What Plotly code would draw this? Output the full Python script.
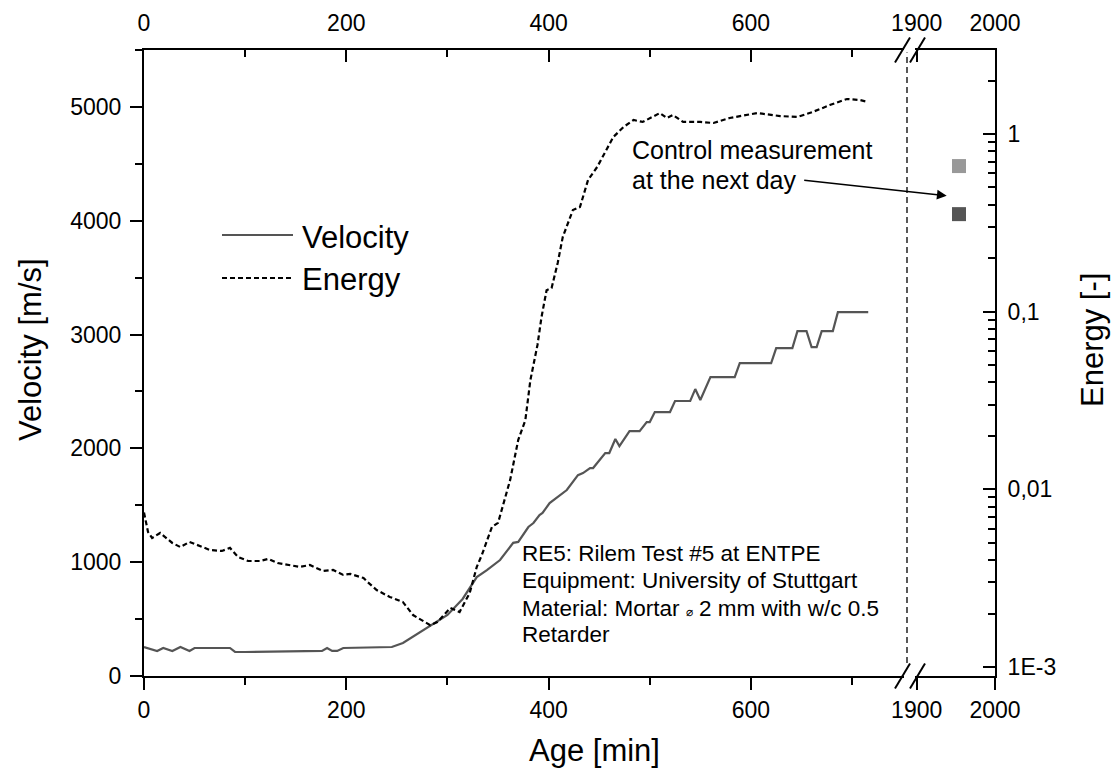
import plotly.graph_objects as go

# ---------------- data ----------------
age_v = [0, 13, 19, 28, 36, 45, 50, 85, 90, 100, 176, 181, 186, 191, 197, 245, 256, 285, 300, 315,
         329, 339, 352, 365, 370, 380, 385, 391, 394, 401, 408, 418, 429, 434, 441, 444, 456, 460, 466, 470,
         480, 490, 497, 500, 505, 520, 525, 540, 545, 550, 560, 584, 589, 620, 625, 641, 646, 655, 660, 665,
         670, 681, 686, 716]
velocity = [255, 220, 246, 220, 255, 220, 246, 246, 211, 211, 220, 246, 220, 220, 246, 255, 290, 457, 536, 677,
            869, 931, 1019, 1170, 1178, 1309, 1344, 1414, 1432, 1520, 1564, 1634, 1765, 1783, 1827, 1827, 1959, 1959, 2082, 2020,
            2151, 2151, 2231, 2231, 2319, 2319, 2416, 2416, 2521, 2425, 2626, 2626, 2749, 2749, 2881, 2881, 3030, 3030, 2890, 2890,
            3030, 3030, 3197, 3197]

age_e = [0, 4, 8, 16, 28, 36, 45, 57, 65, 77, 85, 93, 103, 115, 123, 132, 146, 154, 164, 177,
         187, 197, 204, 217, 221, 230, 243, 256, 266, 283, 290, 303, 312, 322, 329, 334, 344, 350, 362, 370,
         377, 382, 389, 393, 398, 403, 409, 414, 424, 431, 439, 448, 464, 474, 484, 493, 510, 517, 523, 533,
         550, 563, 579, 606, 629, 646, 661, 678, 695, 708, 716]
energy = [0.0074, 0.00575, 0.00532, 0.00568, 0.00499, 0.00473, 0.00506, 0.00473, 0.00456, 0.00450,
          0.00468, 0.00416, 0.00395, 0.00395, 0.00406, 0.00385, 0.00371, 0.00366, 0.00375, 0.00347,
          0.00352, 0.00330, 0.00334, 0.00317, 0.00301, 0.00271, 0.00248, 0.00232, 0.00196, 0.00172,
          0.00179, 0.00215, 0.00204, 0.00261, 0.00366, 0.00427, 0.00614, 0.00647, 0.0113, 0.0190,
          0.0245, 0.0412, 0.0649, 0.0933, 0.132, 0.136, 0.188, 0.263, 0.373, 0.388,
          0.551, 0.652, 0.962, 1.094, 1.199, 1.169, 1.312, 1.230, 1.279, 1.169,
          1.169, 1.153, 1.230, 1.312, 1.262, 1.247, 1.330, 1.455, 1.574, 1.552, 1.514]

control_age = [1954]
control_velocity = [4058]
control_energy = [0.66]

x_ticks_main = [0, 200, 400, 600]
x_ticks_day = [1900, 2000]
v_ticks = [0, 1000, 2000, 3000, 4000, 5000]
e_ticks = [0.001, 0.01, 0.1, 1]
e_ticktext = ["1E-3", "0,01", "0,1", "1"]

info_lines = ["RE5: Rilem Test #5 at ENTPE",
              "Equipment: University of Stuttgart",
              "Material: Mortar <span style='font-size:12px'>\u2300</span> 2 mm with w/c 0.5",
              "Retarder"]

# ---------------- layout geometry (page pixels) ----------------
W, H = 1112, 769
L, R, T, B = 144, 995, 50, 676          # plot area
pw, ph = R - L, B - T
def px(x):
    return (x - L) / pw
def py(y):
    return (B - y) / ph

xbreak = 907
d1 = px(xbreak)
range1 = [0, (xbreak - L) / 1.0115]
range2 = [1900 - (916.7 - xbreak) / 0.783, 2000]

FONT = "Liberation Sans, Arial, sans-serif"
TICKF = dict(family=FONT, size=23, color="black")
VEL_COLOR = "#555555"

fig = go.Figure()
fig.add_trace(go.Scatter(x=age_v, y=velocity, mode="lines", name="Velocity",
                         line=dict(color=VEL_COLOR, width=2.2), xaxis="x", yaxis="y",
                         showlegend=False))
fig.add_trace(go.Scatter(x=age_e, y=energy, mode="lines", name="Energy",
                         line=dict(color="black", width=2.2, dash="5px,3px"), xaxis="x3", yaxis="y2",
                         showlegend=False))
fig.add_trace(go.Scatter(x=control_age, y=control_velocity, mode="markers", name="Velocity (next day)",
                         marker=dict(symbol="square", size=14, color=VEL_COLOR), xaxis="x2", yaxis="y",
                         showlegend=False))
fig.add_trace(go.Scatter(x=control_age, y=control_energy, mode="markers", name="Energy (next day)",
                         marker=dict(symbol="square", size=14, color="#999999"), xaxis="x4", yaxis="y2",
                         showlegend=False))

common_x = dict(showline=True, linecolor="black", linewidth=2, showgrid=False, zeroline=False,
                tickfont=TICKF, tickcolor="black", tickwidth=2)

minor_log = [k * 10 ** e for e in (-4, -3, -2, -1, 0) for k in range(2, 10)]

fig.update_layout(
    width=W, height=H,
    margin=dict(l=L, r=W - R, t=T, b=H - B, autoexpand=False),
    paper_bgcolor="white", plot_bgcolor="white",
    font=dict(family=FONT, color="black"),
    xaxis=dict(domain=[0, d1], range=range1, anchor="y", side="bottom",
               tickmode="array", tickvals=x_ticks_main, ticks="outside", ticklen=12,
               minor=dict(dtick=100, tick0=0, ticks="outside", ticklen=7, tickcolor="black", tickwidth=2),
               **common_x),
    xaxis2=dict(domain=[d1, 1], range=range2, anchor="y", side="bottom",
                tickmode="array", tickvals=x_ticks_day, ticks="outside", ticklen=12,
                **common_x),
    xaxis3=dict(overlaying="x", range=range1, anchor="y", side="top",
                tickmode="array", tickvals=x_ticks_main, ticks="inside", ticklen=12,
                minor=dict(dtick=100, tick0=0, ticks="inside", ticklen=7, tickcolor="black", tickwidth=2),
                ticklabelstandoff=8,
                **common_x),
    xaxis4=dict(overlaying="x2", range=range2, anchor="y", side="top",
                tickmode="array", tickvals=x_ticks_day, ticks="inside", ticklen=12,
                ticklabelstandoff=8,
                **common_x),
    yaxis=dict(domain=[0, 1], range=[0, 5500], anchor="x", side="left",
               tickmode="array", tickvals=v_ticks, ticks="outside", ticklen=12,
               minor=dict(dtick=500, tick0=0, ticks="outside", ticklen=7, tickcolor="black", tickwidth=2),
               ticklabelstandoff=4,
               **common_x),
    yaxis2=dict(overlaying="y", type="log", range=[-3.0507, 0.4728], anchor="x2", side="right",
                tickmode="array", tickvals=e_ticks, ticktext=e_ticktext, ticks="inside", ticklen=12,
                minor=dict(tickmode="array", tickvals=minor_log, ticks="inside", ticklen=7,
                           tickcolor="black", tickwidth=2),
                ticklabelstandoff=6,
                **common_x),
)

shapes = []
# vertical dashed separator at the axis break
shapes.append(dict(type="line", xref="paper", yref="paper", x0=d1, x1=d1, y0=py(663), y1=1,
                   line=dict(color="black", width=1.3, dash="6px,4px"), layer="above"))
# break marks (bottom and top)
for yc in (B, T):
    shapes.append(dict(type="line", xref="paper", yref="paper", x0=px(904), x1=px(915),
                       y0=py(yc), y1=py(yc), line=dict(color="white", width=5), layer="above"))
    for xc in (902.5, 917.5):
        shapes.append(dict(type="line", xref="paper", yref="paper",
                           x0=px(xc - 7.5), y0=py(yc + 12.5), x1=px(xc + 7.5), y1=py(yc - 12.5),
                           line=dict(color="black", width=2), layer="above"))
# legend samples
shapes.append(dict(type="line", xref="paper", yref="paper", x0=px(222), x1=px(293), y0=py(235), y1=py(235),
                   line=dict(color=VEL_COLOR, width=2.2)))
shapes.append(dict(type="line", xref="paper", yref="paper", x0=px(222), x1=px(293), y0=py(278), y1=py(278),
                   line=dict(color="black", width=2.2, dash="5px,3px")))
fig.update_layout(shapes=shapes)

TITLEF = dict(family=FONT, size=31, color="black")
ann = []
# axis titles
ann.append(dict(text="Velocity [m/s]", xref="paper", yref="paper", x=px(30), y=py(350), textangle=-90,
                xanchor="center", yanchor="middle", showarrow=False, font=TITLEF))
ann.append(dict(text="Energy [-]", xref="paper", yref="paper", x=px(1092), y=py(340), textangle=-90,
                xanchor="center", yanchor="middle", showarrow=False, font=TITLEF))
ann.append(dict(text="Age [min]", xref="paper", yref="paper", x=px(594), y=py(750),
                xanchor="center", yanchor="middle", showarrow=False, font=TITLEF))
# legend
ann.append(dict(text="Velocity", xref="paper", yref="paper", x=px(300), y=py(237), xanchor="left",
                yanchor="middle", showarrow=False, font=dict(family=FONT, size=31)))
ann.append(dict(text="Energy", xref="paper", yref="paper", x=px(300), y=py(279), xanchor="left",
                yanchor="middle", showarrow=False, font=dict(family=FONT, size=31)))
for txt, base in zip(["Control measurement", "at the next day"], [158, 188]):
    ann.append(dict(text=txt, xref="paper", yref="paper", x=px(630), y=py(base - 8), xanchor="left",
                    yanchor="middle", showarrow=False, font=dict(family=FONT, size=25)))
# arrow to control measurement
ann.append(dict(text="", xref="paper", yref="paper", x=px(946.7), y=py(195.7),
                ax=-144, ay=-15.7, axref="pixel", ayref="pixel", showarrow=True,
                arrowhead=2, arrowsize=1.3, arrowwidth=1.5, arrowcolor="black"))
for txt, base in zip(info_lines, [560, 587.3, 615, 641.7]):
    ann.append(dict(text=txt, xref="paper", yref="paper", x=px(520), y=py(base - 7), xanchor="left",
                    yanchor="middle", showarrow=False, font=dict(family=FONT, size=22.5)))
fig.update_layout(annotations=ann)

# remove the default 8px page margin so the figure fills the window exactly
fig.write_html("out.html", config={"displayModeBar": False},
               post_script="document.body.style.margin='0';document.body.style.overflow='hidden';")
